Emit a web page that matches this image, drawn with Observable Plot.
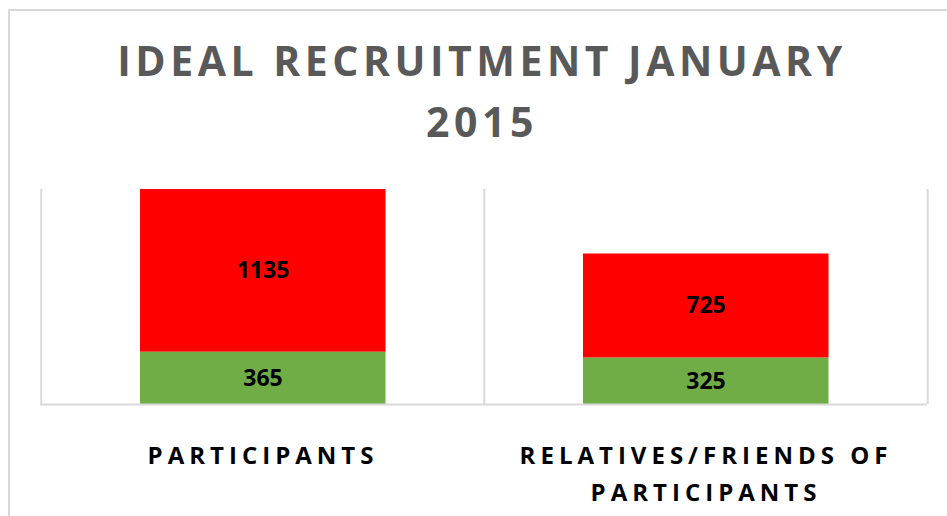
<!DOCTYPE html>
<html><head><meta charset="utf-8">
<script src="https://cdn.jsdelivr.net/npm/d3@7"></script>
<script src="https://cdn.jsdelivr.net/npm/@observablehq/plot@0.6"></script>
<style>
html,body{margin:0;padding:0;background:#fff;width:947px;height:516px;overflow:hidden;}
#wrap{position:relative;width:947px;height:516px;}
#border{position:absolute;left:8px;top:9px;width:1000px;height:600px;border-left:2px solid #d9d9d9;border-top:2px solid #d9d9d9;}
#chart{position:absolute;left:0;top:0;}
#chart svg{background:transparent;}
#title{position:absolute;left:0;top:30px;width:964px;text-align:center;font-family:"Open Sans";font-weight:bold;font-size:41px;line-height:61px;letter-spacing:4.5px;color:#595959;z-index:2;}
g[aria-label="x-axis tick label"]{letter-spacing:5px;}
</style></head>
<body>
<div id="wrap">
  <div id="border"></div>
  <div id="chart"></div>
  <div id="title">IDEAL RECRUITMENT JANUARY<br>2015</div>
</div>
<script>
const categories = ["PARTICIPANTS", "RELATIVES/FRIENDS OF PARTICIPANTS"];
const tickLabels = ["PARTICIPANTS", "RELATIVES/FRIENDS OF\nPARTICIPANTS"];
const seriesNames = ["Series 1", "Series 2"];
const series1 = [365, 325];   // green (bottom)
const series2 = [1135, 725];  // red (top)
const seriesColors = ["#70ad47", "#ff0000"];

const data = [];
categories.forEach((c, i) => {
  data.push({category: c, series: seriesNames[0], value: series1[i]});
  data.push({category: c, series: seriesNames[1], value: series2[i]});
});

const W = 947, H = 516;
const mL = 40, mR = 20, mT = 189, mB = 112;
const step = (W - mL - mR) / categories.length;
const gridColor = "#d9d9d9";

const chart = Plot.plot({
  width: W, height: H,
  marginLeft: mL, marginRight: mR, marginTop: mT, marginBottom: mB,
  style: {fontFamily: "Open Sans", background: "transparent"},
  x: {domain: categories, padding: 0, label: null},
  y: {domain: [0, 1500], axis: null},
  color: {domain: seriesNames, range: seriesColors},
  marks: [
    Plot.ruleX(categories, {x: d => d, dx: -step / 2, stroke: gridColor, strokeWidth: 2}),
    Plot.ruleX(categories.slice(-1), {x: d => d, dx: step / 2, stroke: gridColor, strokeWidth: 2}),
    Plot.barY(data, {x: "category", y: "value", fill: "series", insetLeft: 99, insetRight: 98.5}),
    Plot.ruleY([0], {stroke: gridColor, strokeWidth: 2}),
    Plot.text(data, Plot.stackY({x: "category", y: "value", z: "series", text: d => String(d.value),
      fontSize: 23, fontWeight: "bold", fill: "black"})),
    Plot.axisX({tickSize: 0, tickPadding: 33, fontSize: 24, fontWeight: "bold", fill: "black",
      lineHeight: 1.54, label: null,
      tickFormat: d => tickLabels[categories.indexOf(d)]})
  ]
});
document.getElementById("chart").appendChild(chart);
</script>
</body></html>
